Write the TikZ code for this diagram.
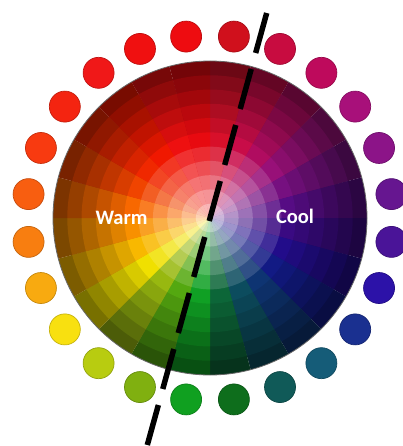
\documentclass[tikz,border=0pt]{standalone}
\usepackage{fontspec}
\setmainfont{Carlito}
% dot hues (clockwise from top)
\definecolor{h0}{HTML}{D0101C}
\definecolor{h1}{HTML}{C80C40}
\definecolor{h2}{HTML}{BE0A5C}
\definecolor{h3}{HTML}{A8107A}
\definecolor{h4}{HTML}{8C1488}
\definecolor{h5}{HTML}{661690}
\definecolor{h6}{HTML}{4A1498}
\definecolor{h7}{HTML}{2C12A8}
\definecolor{h8}{HTML}{1A3090}
\definecolor{h9}{HTML}{155C78}
\definecolor{h10}{HTML}{105A58}
\definecolor{h11}{HTML}{0E6E1C}
\definecolor{h12}{HTML}{10A020}
\definecolor{h13}{HTML}{80B010}
\definecolor{h14}{HTML}{B8CC10}
\definecolor{h15}{HTML}{F8E010}
\definecolor{h16}{HTML}{F8AA10}
\definecolor{h17}{HTML}{F87E10}
\definecolor{h18}{HTML}{F85E10}
\definecolor{h19}{HTML}{F83A10}
\definecolor{h20}{HTML}{F42410}
\definecolor{h21}{HTML}{F01818}
\definecolor{h22}{HTML}{F01010}
\definecolor{h23}{HTML}{EE0C10}
% wheel hues
\definecolor{w0}{HTML}{D8102A}
\definecolor{w1}{HTML}{C80C48}
\definecolor{w2}{HTML}{B00C60}
\definecolor{w3}{HTML}{981078}
\definecolor{w4}{HTML}{761080}
\definecolor{w5}{HTML}{560C84}
\definecolor{w6}{HTML}{3A0A82}
\definecolor{w7}{HTML}{220C8A}
\definecolor{w8}{HTML}{121A84}
\definecolor{w9}{HTML}{0E3472}
\definecolor{w10}{HTML}{0C4C5E}
\definecolor{w11}{HTML}{0C6638}
\definecolor{w12}{HTML}{10A024}
\definecolor{w13}{HTML}{54A810}
\definecolor{w14}{HTML}{98B810}
\definecolor{w15}{HTML}{F0E000}
\definecolor{w16}{HTML}{F8B800}
\definecolor{w17}{HTML}{F89000}
\definecolor{w18}{HTML}{F86800}
\definecolor{w19}{HTML}{F04400}
\definecolor{w20}{HTML}{F02800}
\definecolor{w21}{HTML}{F01800}
\definecolor{w22}{HTML}{EE1010}
\definecolor{w23}{HTML}{E80A10}
\tikzset{
  labeltext/.style={font=\bfseries\fontsize{20.5}{24}\selectfont, text=white, inner sep=0pt},
  divider/.style={line width=5.5, dash pattern=on 41.5 off 16.6, line cap=butt, black}
}
\begin{document}
\begin{tikzpicture}[x=1pt,y=-1pt]
\useasboundingbox (0,0) rectangle (403,446);
\fill[white] (0,0) rectangle (403,446);
\clip (0,0) rectangle (403,446);
\coordinate (c) at (210,218);
\begin{scope}[shift={(c)}]
  % wheel rings, outer first
  \foreach \k in {11,...,1} {
    \pgfmathsetmacro\r{157*\k/11}
    \pgfmathtruncatemacro\p{\k>=6 ? 100-(\k-6)*10 : 100-(6-\k)*14}
    \pgfmathtruncatemacro\dk{\k>=6 ? 1 : 0}
    \foreach \s in {0,...,23} {
      \pgfmathsetmacro\aa{15*\s-90}
      \pgfmathsetmacro\ab{15*\s-75}
      \ifnum\dk=1
        \fill[fill=w\s!\p!black] (0,0) -- (\aa:\r) arc[start angle=\aa, end angle=\ab, radius=\r] -- cycle;
      \else
        \fill[fill=w\s!\p!white] (0,0) -- (\aa:\r) arc[start angle=\aa, end angle=\ab, radius=\r] -- cycle;
      \fi
    }
  }
  \draw[black!60, line width=0.8] (0,0) circle[radius=157];
  % outer dots
  \foreach \i in {0,...,23} {
    \fill[fill=h\i, draw=h\i!80!black, line width=0.7] ({15*\i-82.5}:183) circle[radius=15.5];
  }
\end{scope}
\node[labeltext] (warm) at (121.5,217.5) {Warm};
\node[labeltext] (cool) at (295,216) {Cool};
\coordinate (dtop) at (266.7,13);
\coordinate (dbot) at (143.7,458);
\draw[divider] (dtop) -- (dbot);
\end{tikzpicture}
\end{document}
